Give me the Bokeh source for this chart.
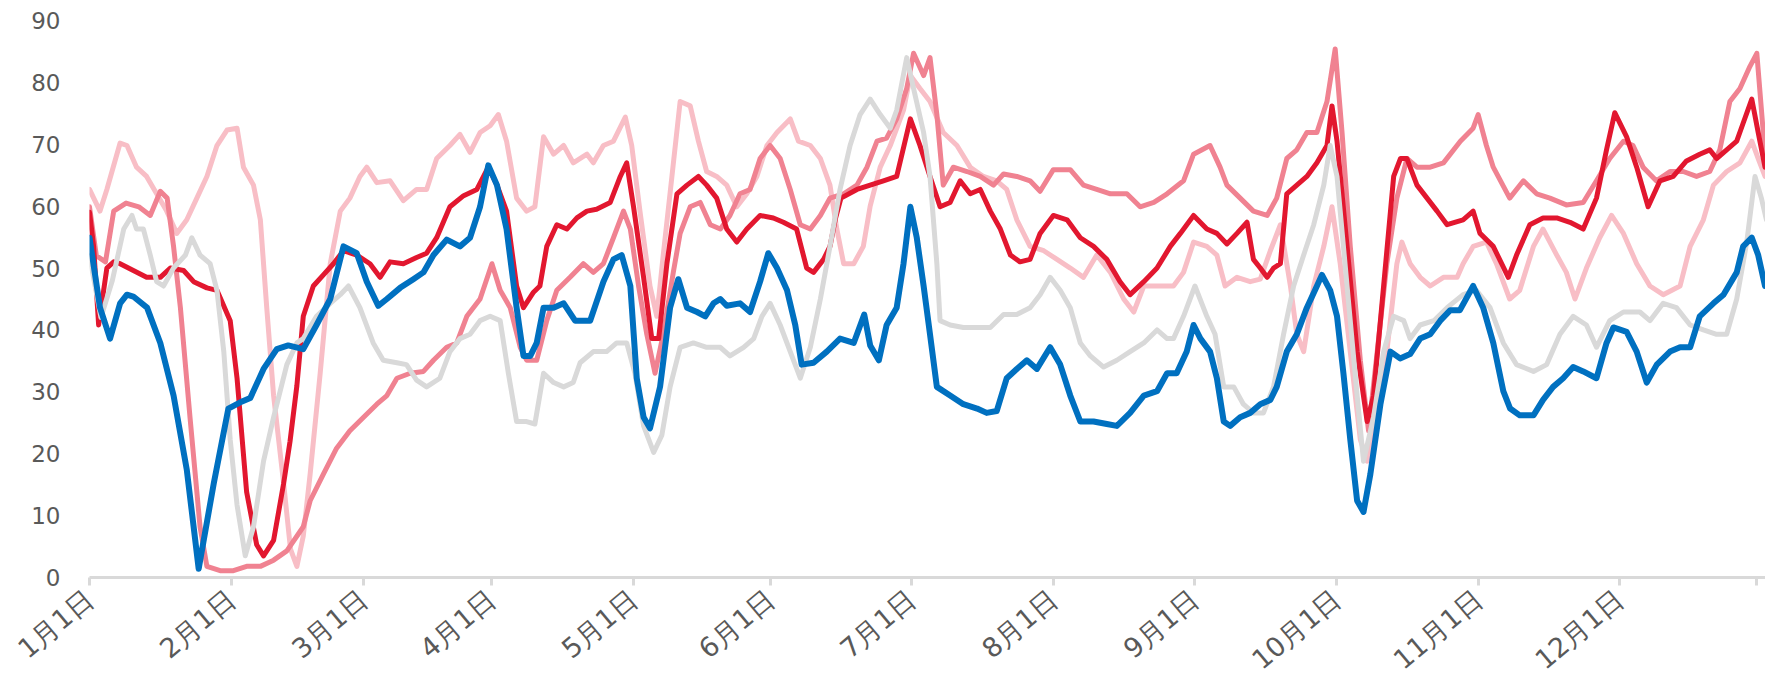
from bokeh.plotting import figure
from bokeh.models import Range1d, FixedTicker
from bokeh.embed import file_html
from bokeh.resources import INLINE

# ---- x-axis ticks (category index of each month start) ----
tick_pos = [0, 31, 60, 88, 119, 149, 180, 211, 242, 273, 304, 335, 365]
tick_labels = ["1月1日", "2月1日", "3月1日", "4月1日", "5月1日", "6月1日", "7月1日",
               "8月1日", "9月1日", "10月1日", "11月1日", "12月1日", ""]
y_ticks = [0, 10, 20, 30, 40, 50, 60, 70, 80, 90]

# ---- series: light grey ----
grey_x = [0, 2.5, 5, 7.5, 9.3, 10.3, 11.8, 13.3, 14.7, 16.2, 18.4, 21, 22.4, 24.2, 26.4, 27.9, 29.4, 30.8, 32.3, 34.1,
          35.9, 38.1, 40.3, 43.2, 45.4, 46.8, 49.7, 52.7, 54.9, 56.7, 59.2, 62.1, 64.3, 67.3, 69.4, 71.6, 73.8, 76.7,
          78.9, 81.1, 83.3, 85.5, 87.7, 89.9, 91.7, 93.5, 95.7, 97.5, 99.4, 101.6, 103.8, 105.9, 107.4, 110.3, 113.2,
          115.4, 117.6, 119.4, 121.3, 123.5, 125.3, 127.1, 129.3, 132.2, 135.1, 138.1, 140.2, 143.2, 145.4, 147.2, 149,
          151.2, 153.4, 155.6, 157.8, 160, 162.1, 164.3, 166.5, 168.7, 170.9, 173.1, 175.3, 176.7, 178.9, 180.4, 182.6,
          184, 185.5, 186.2, 188.4, 191.3, 194.3, 197.2, 200.1, 203, 205.9, 208.1, 210.3, 212.5, 214.7, 216.9, 219.1,
          222, 224.9, 227.8, 230.8, 233.7, 235.9, 237.3, 239.5, 242, 244.6, 246.4, 248.3, 250.5, 252.6, 254.8, 257,
          259.2, 261.4, 263.6, 265.8, 268, 270.2, 271.6, 273.1, 275.3, 277.5, 278.9, 281.1, 283.3, 285.5, 287.7, 289.1,
          291.3, 294.3, 297.2, 300.7, 303.6, 306.6, 309.5, 312.4, 316.1, 319, 321.9, 324.8, 327.7, 329.9, 332.8, 335.8,
          339.4, 341.6, 344.5, 347.4, 350.4, 353.3, 356.2, 358.4, 360.6, 362.8, 364.6, 366, 367.1]
grey_y = [52, 42, 48, 56.3, 58.5, 56.3, 56.3, 52.1, 47.8, 47.1, 50, 52.1, 54.9, 52.1, 50.7, 46.4, 36.5, 22.3, 11.7, 3.5,
          8.2, 18.8, 25.9, 34.4, 37.9, 38.6, 42.2, 44.3, 45.7, 47.1, 43.6, 37.9, 35.1, 34.7, 34.4, 31.9, 30.8, 32.2,
          36.5, 38.6, 39.3, 41.5, 42.2, 41.5, 33, 25.2, 25.2, 24.8, 33, 31.5, 30.8, 31.5, 34.7, 36.5, 36.5,
          37.9, 37.9, 33, 24.5, 20.2, 23, 30.8, 37.2, 37.9, 37.2, 37.2, 35.8, 37.2, 38.6, 42.2, 44.3,
          40.8, 36.5, 32.2, 37.2, 45, 53.5, 62.7, 69.8, 74.8, 77.3, 74.8, 72.6, 75.5, 84, 79, 71.9,
          64.8, 50.7, 41.5, 40.8, 40.4, 40.4, 40.4, 42.5, 42.5, 43.6, 45.7, 48.5, 46.4, 43.6, 37.9, 35.8,
          34, 35.1, 36.5, 37.9, 40, 38.6, 38.6, 42.2, 47.1, 42.2, 39.3, 30.8, 30.8, 28, 26.6, 26.6,
          30.8, 39.3, 47.1, 52.1, 57, 63.4, 69.8, 64.8, 47.1, 29.4, 18.8, 25.9, 36.5, 42.2, 41.5, 38.6,
          40.8, 41.5, 43.6, 45.7, 46.4, 43.6, 37.9, 34.4, 33.3, 34.4, 39.3, 42.2, 40.8, 37.2, 41.5, 42.9,
          42.9, 41.5, 44.3, 43.6, 40.8, 40, 39.3, 39.3, 45, 54.2, 64.8, 61.3, 57.8]

# ---- series: light pink ----
lpink_x = [0, 2.3, 3.8, 6.7, 8.2, 10.3, 12.5, 14.7, 16.9, 19.1, 21.3, 23.5, 25.7, 27.9, 30.1, 32.3, 33.7, 35.9, 37.4,
           38.8, 40.3, 42.5, 44, 45.4, 46.8, 48.3, 50.5, 52.7, 54.9, 57, 59.2, 60.7, 62.9, 65.8, 68.7, 71.6, 73.8, 76,
           78.9, 81.1, 83.3, 85.5, 87.7, 89.5, 91.3, 93.5, 95.7, 97.5, 99.4, 101.6, 103.8, 105.9, 108.9, 110.3, 112.5,
           114.7, 117.3, 118.7, 120.5, 122.7, 124.2, 125.6, 127.5, 129.3, 131.5, 133.3, 135.1, 137.3, 139.5, 141.7,
           143.9, 146.1, 148.3, 150.5, 153.4, 155.2, 157.8, 160, 162.1, 163.6, 165.1, 167.3, 169.4, 170.9, 173.1, 175.3,
           178.2, 179.7, 181.8, 184, 186.9, 189.9, 192.8, 195.7, 198.6, 200.8, 203, 205.9, 208.9, 211.8, 214.7, 217.6,
           220.5, 223.5, 226.4, 228.6, 230.8, 233.7, 237.3, 239.5, 241.7, 244.6, 246.8, 248.6, 251.2, 254.1, 256.3,
           258.5, 260.7, 262.9, 264.3, 265.8, 268, 270.2, 272, 273.8, 276, 278.2, 279.7, 281.9, 284, 286.2, 287.3,
           289.1, 291.3, 293.5, 296.4, 299.4, 300.7, 302.9, 305.8, 308, 310.9, 313.1, 316.1, 318.2, 321.2, 323.3, 325.2,
           327.7, 330.6, 333.2, 335.8, 338.7, 341.6, 344.5, 348.2, 350.4, 353.3, 355.5, 358.4, 361.3, 363.9, 365.3, 366.8]
lpink_y = [62.7, 59.2, 62.7, 70.2, 69.8, 66.3, 64.8, 62, 59.2, 55.6, 57.8, 61.3, 64.8, 69.8, 72.3, 72.6, 66.3, 63.4, 57.8,
           43.6, 29.4, 15.2, 4.6, 1.8, 6.7, 16.7, 33, 50.7, 59.2, 61.3, 64.8, 66.3, 63.8, 64.1, 60.9, 62.7, 62.7, 67.7,
           69.8, 71.6, 68.7, 71.9, 73, 74.8, 70.5, 61.3, 59.2, 59.9, 71.2, 68.4, 69.8, 67, 68.4, 67, 69.8,
           70.5, 74.4, 69.8, 59.2, 47.1, 42.2, 52.1, 64.8, 76.9, 76.2, 70.5, 65.6, 64.8, 63.4, 59.9,
           62, 64.8, 69.8, 71.9, 74.1, 70.5, 69.8, 67.7, 63.4, 56.3, 50.7, 50.7, 53.5, 60, 66.3, 69.8,
           75.5, 81.1, 79, 76.9, 71.9, 69.8, 66.3, 64.8, 64.1, 62.7, 57.8, 53.5, 52.8, 51.4, 50, 48.5,
           52.1, 49.3, 45, 42.9, 47.1, 47.1, 47.1, 49.3, 54.2, 53.5, 52.1, 47.1, 48.5, 47.8, 48.2,
           52.8, 57, 47.1, 39.3, 36.5, 47.1, 53.5, 59.9, 50.7, 36.5, 22.3, 18.8, 25.9, 36.5, 50.7, 54.2,
           50.7, 48.5, 47.1, 48.5, 48.5, 50.7, 53.5, 54.2, 50.7, 45, 46.4, 53.5, 56.3, 52.1, 49.3, 45,
           50, 54.9, 58.5, 55.6, 50.7, 47.1, 45.7, 47.1, 53.5, 57.8, 63.4, 65.6, 67, 70.5, 67.7, 64.8]

# ---- series: medium pink ----
mpink_x = [0, 1.5, 3.5, 5.3, 8, 10.8, 13.3, 15.5, 17, 18.4, 19.9, 22, 24.2, 25.7, 28.6, 31.5, 34.4, 37.4, 40.3, 43.2,
           46.8, 48.3, 51.2, 54.1, 57, 60, 62.9, 65.1, 67.3, 70.2, 73.1, 75.3, 78.2, 80.4, 82.6, 85.5, 88.1, 89.9, 92.1,
           94.3, 95.7, 97.9, 100.1, 102.3, 105.2, 108.1, 110.3, 112.5, 114.7, 116.9, 118.4, 120.2, 122, 123.8, 125.6,
           127.8, 129.3, 131.5, 133.7, 135.9, 138.1, 140.2, 142.4, 144.6, 146.8, 149, 151.2, 153.4, 155.6, 157.8, 160,
           162.1, 165.1, 168, 170.2, 172.4, 174.5, 176.7, 178.9, 180.4, 182.6, 184, 185.5, 186.9, 189.1, 192.1, 195,
           197.9, 200.1, 203, 205.9, 208.1, 211, 214.7, 217.6, 220.5, 223.5, 227.1, 230, 233, 235.9, 239.5, 241.7,
           245.3, 247.5, 249, 251.9, 254.8, 257.8, 259.9, 262.1, 264.3, 266.5, 268.7, 270.9, 272.7, 274.2, 276, 278.2,
           280, 281.9, 284, 286.2, 288.4, 290.6, 293.5, 296.4, 300.1, 302.9, 304, 305.8, 307.3, 310.9, 313.9, 316.8,
           319.7, 323.3, 327, 329.9, 332.8, 335.8, 337.9, 340.1, 343, 346, 348.9, 351.8, 354.7, 356.9, 359.1, 361.3,
           363.5, 365, 366.8]
mpink_y = [59.9, 52, 51, 59.2, 60.5, 59.9, 58.5, 62.4, 61.3, 53.5, 43.6, 25.9, 8.2, 1.8, 1.1, 1.1, 1.8, 1.8, 2.8, 4.3,
           8.2, 12.4, 16.7, 20.9, 23.7, 25.9, 28, 29.4, 32.2, 33, 33.3, 35.1, 37.2, 37.9, 42.2, 45, 50.7, 46.4, 43.6,
           37.2, 35.1, 35.1, 41.5, 46.4, 48.5, 50.7, 49.3, 50.7, 54.9, 59.2, 56.3, 47.1, 39.3, 33, 39.3,
           49.3, 55.6, 59.9, 60.6, 57, 56.3, 58.5, 62, 62.7, 67.7, 69.8, 67.7, 62.7, 57, 56.3, 58.5,
           61.3, 62, 63.4, 66.3, 70.5, 71, 74.1, 79, 84.7, 81.1, 84, 74.8, 63.4, 66.3, 65.6, 64.8,
           63.4, 65.2, 64.8, 64.1, 62.4, 65.9, 65.9, 63.4, 62.7, 62, 62, 59.9, 60.6, 62, 64.1, 68.4,
           69.8, 66.3, 63.4, 61.3, 59.2, 58.5, 61.3, 67.7, 69.1, 71.9, 71.9, 76.9, 85.4, 71.9, 53.5, 35.1,
           23.7, 36.5, 50.7, 61.3, 67.7, 66.3, 66.3, 67, 70.5, 72.6, 74.8, 69.8, 66.3, 61.3, 64.1, 62,
           61.3, 60.2, 60.6, 64.1, 67.7, 70.5, 69.8, 66.3, 64.1, 65.6, 65.6, 64.8, 65.6, 69.1, 76.9, 79,
           82.6, 84.7, 68.4]

# ---- series: dark red ----
red_x = [0, 0.9, 2, 3.8, 5.3, 6.7, 9.6, 12.5, 15.5, 17.7, 20.6, 22.8, 25.7, 27.9, 30.8, 32.3, 34.4, 36.6, 38.1, 40.3,
         42.5, 43.9, 45.4, 46.8, 49, 51.2, 53.4, 55.6, 58.5, 61.4, 63.6, 65.8, 68.7, 71.6, 73.8, 76, 78.9, 81.9, 84.8,
         87.3, 89.2, 91.3, 93.5, 95, 97.2, 98.6, 100.1, 102.3, 104.5, 106.7, 108.9, 111, 114, 116.2, 117.6, 119.1, 121.3,
         123.1, 124.6, 126.4, 128.6, 130.8, 133.3, 135.1, 137.3, 139.5, 141.7, 143.9, 146.8, 149.7, 151.9, 154.8, 157,
         158.5, 160.7, 162.1, 163.3, 164.5, 168, 170.9, 173.8, 176.7, 179.7, 181.8, 184, 186.2, 188.4, 190.6, 192.8, 195,
         197.2, 199.4, 201.6, 203.7, 205.9, 208.1, 211, 214, 216.9, 219.8, 222.7, 225.6, 227.8, 230.8, 233.7, 236.6,
         238.8, 241.7, 244.6, 246.8, 249, 251.2, 253.4, 254.8, 256.3, 257.8, 259.2, 260.7, 262.1, 264.3, 266.5, 268.7,
         270.9, 272, 273.1, 275.3, 277.5, 279.7, 281.1, 283.3, 285.5, 287, 288.4, 290.6, 292.8, 295, 297.2, 300.7,
         302.9, 304.4, 307.3, 310.6, 312.4, 315.3, 318.2, 321.2, 324.1, 327, 329.9, 332.1, 333.9, 336.5, 338.7, 341.2,
         343.8, 346.7, 349.6, 352.5, 354.7, 356.2, 358.4, 360.6, 362, 363.9, 365.3, 366.8]
red_y = [59, 53.5, 40.8, 50, 51, 50.7, 49.6, 48.5, 48.5, 50, 49.6, 47.8, 46.8, 46.4, 41.5, 32.2, 13.8, 5.3, 3.5, 6,
         15.2, 22, 31, 42.2, 47.1, 48.9, 50.7, 52.8, 52.1, 50.7, 48.5, 51, 50.7, 51.7, 52.4, 54.9, 59.9, 61.7, 62.7,
         66.3, 63.4, 59.2, 47.1, 43.6, 46.1, 47.1, 53.5, 57, 56.3, 58.1, 59.2, 59.5, 60.6, 64.8, 67, 59.9, 48.5,
         38.6, 38.6, 50.7, 62, 63.4, 64.8, 63.4, 61.3, 56.3, 54.2, 56.3, 58.5, 58.1, 57.4, 56.3, 50,
         49.3, 51.4, 53.5, 58, 61.3, 62.7, 63.4, 64.1, 64.8, 74.1, 69.8, 64.8, 59.9, 60.6, 64.1, 62, 62.7,
         59.2, 56.3, 52.1, 51, 51.4, 55.6, 58.5, 57.8, 54.9, 53.5, 51.4, 47.8, 45.7, 47.8, 50, 53.5,
         55.6, 58.5, 56.3, 55.6, 53.9, 55.6, 57.4, 51.4, 50, 48.5, 50, 50.7, 62, 63.4, 64.8, 67,
         69.8, 76.2, 70.5, 53.5, 36.5, 25.2, 29.4, 47.1, 64.8, 67.7, 67.7, 63.4, 61.3, 59.2, 57, 57.8,
         59.2, 55.6, 53.5, 48.5, 52.1, 57, 58.1, 58.1, 57.4, 56.3, 61.3, 69.1, 75.1, 71.2, 66.3, 59.9,
         64.1, 64.8, 67.3, 68.4, 69.1, 67.7, 69.1, 70.5, 73.4, 77.3, 71.9, 66.3]

# ---- series: blue ----
blue_x = [0, 2.3, 4.5, 6.7, 8.2, 9.6, 12.6, 15.5, 18.4, 21.3, 23.9, 27.2, 30.4, 33, 35.2, 38.1, 41, 43.5, 46.8, 49.7,
          52.7, 55.6, 58.5, 60.7, 63.2, 65.1, 68, 70.9, 73.1, 75.3, 78.2, 81.1, 83.3, 85.5, 87.3, 89.2, 91.3, 93.5, 95,
          96.5, 97.9, 99.4, 101.6, 103.8, 106.3, 109.6, 112.5, 114.7, 116.5, 118.4, 119.8, 121.3, 122.7, 124.9, 127.1,
          128.9, 130.8, 133, 134.8, 136.6, 138.1, 139.5, 142.4, 144.6, 146.8, 148.6, 150.5, 152.7, 154.5, 155.9, 158.5,
          161.4, 164.3, 167.3, 169.6, 170.9, 172.8, 174.5, 176.7, 178.2, 179.7, 181.1, 182.6, 184, 185.5, 188.4, 191.3,
          194.3, 196.4, 198.6, 200.8, 203, 205.2, 207.4, 210.3, 212.5, 214.7, 216.9, 219.8, 222.7, 224.9, 227.8, 230.8,
          233.7, 235.9, 238, 240.2, 241.7, 243.2, 245.3, 246.8, 248.3, 249.7, 251.9, 254.1, 256.3, 258.5, 259.9, 262.1,
          264.3, 266.5, 268.7, 269.8, 271.6, 273.1, 274.5, 276, 277.5, 278.9, 280.4, 282.6, 284.8, 286.9, 289.1, 291.3,
          293.5, 295.7, 297.9, 300, 302.9, 305.1, 307.3, 309.5, 311, 313.1, 316.1, 318.2, 320.4, 322.6, 324.8, 327,
          329.9, 332.1, 333.6, 336.5, 338.7, 340.9, 343.1, 346, 348.2, 350.4, 352.5, 355.5, 357.7, 360.6, 362, 363.9,
          365.3, 366.8]
blue_y = [54.9, 43.6, 38.6, 44.3, 45.7, 45.4, 43.6, 37.9, 29.4, 17.4, 1.4, 15.2, 27.3, 28.3, 29, 33.7, 36.9, 37.5, 36.9, 40.8,
          45, 53.5, 52.4, 47.8, 43.9, 45, 46.8, 48.2, 49.3, 52.1, 54.6, 53.5, 54.9, 59.9, 66.6, 63.4, 56.3, 43.6, 35.8,
          35.8, 37.9, 43.6, 43.6, 44.3, 41.5, 41.5, 47.8, 51.4, 52.1, 47.1, 32.2, 25.9, 24.1, 30.8, 43.6,
          48.2, 43.6, 42.9, 42.2, 44.3, 45, 43.9, 44.3, 42.9, 47.8, 52.4, 50, 46.4, 40.8, 34.4, 34.7,
          36.5, 38.6, 37.9, 42.5, 37.5, 35.1, 40.8, 43.6, 50.7, 59.9, 54.9, 47.1, 39.3, 30.8, 29.4, 28,
          27.3, 26.6, 26.9, 32.2, 33.7, 35.1, 33.7, 37.2, 34.4, 29.4, 25.2, 25.2, 24.8, 24.5, 26.6, 29.4,
          30.1, 33, 33, 36.5, 40.8, 38.6, 36.5, 32.2, 25.2, 24.5, 25.9, 26.6, 28, 28.7, 30.8, 36.5,
          39.3, 43.6, 47.1, 48.9, 46.4, 42.2, 33, 22.3, 12.4, 10.6, 16.7, 28, 36.5, 35.4, 36.1, 38.6,
          39.3, 41.5, 43.2, 43.2, 47.1, 43.6, 37.9, 30.1, 27.3, 26.2, 26.2, 28.7, 30.8, 32.2, 34, 33.3,
          32.2, 37.9, 40.4, 39.7, 36.5, 31.5, 34.4, 36.5, 37.2, 37.2, 42.2, 44.3, 45.7, 49.3, 53.5, 54.9,
          52.1, 47.1]

# drawing order: first is at the bottom
series = [
    (lpink_x, lpink_y, "#F8BEC6", 5),
    (mpink_x, mpink_y, "#F08291", 5),
    (red_x, red_y, "#E2172F", 5),
    (grey_x, grey_y, "#D9D9D9", 5),
    (blue_x, blue_y, "#0070C0", 6),
]

p = figure(frame_width=1676, frame_height=557, output_backend="svg", toolbar_location=None,
           x_range=Range1d(0, 366.9), y_range=Range1d(0, 90),
           min_border_left=89, min_border_right=0, min_border_top=20, min_border_bottom=0)
p.background_fill_color = "white"
p.border_fill_color = "white"
p.outline_line_color = None
p.xgrid.visible = False
p.ygrid.visible = False

for xs, ys, col, w in series:
    p.line(xs, ys, line_color=col, line_width=w, line_join="round", line_cap="round")

label_font = "DejaVu Sans"
label_color = "#595959"

xa = p.xaxis[0]
xa.ticker = FixedTicker(ticks=tick_pos)
xa.major_label_overrides = {t: l for t, l in zip(tick_pos, tick_labels)}
xa.major_label_orientation = 0.70
xa.axis_line_color = "#D9D9D9"
xa.axis_line_width = 3
xa.major_tick_line_color = "#D9D9D9"
xa.major_tick_line_width = 3
xa.major_tick_in = 0
xa.major_tick_out = 8
xa.minor_tick_line_color = None
xa.major_label_text_font = label_font
xa.major_label_text_font_size = "27px"
xa.major_label_text_color = label_color
xa.major_label_standoff = 10

ya = p.yaxis[0]
ya.ticker = FixedTicker(ticks=y_ticks)
ya.axis_line_color = None
ya.major_tick_line_color = None
ya.minor_tick_line_color = None
ya.major_label_text_font = label_font
ya.major_label_text_font_size = "23px"
ya.major_label_text_color = label_color
ya.major_label_standoff = 23

html = file_html(p, INLINE)
html = html.replace("<head>", "<head><style>html, body { margin: 0; overflow: hidden; }</style>", 1)
open("out.html", "w").write(html)
